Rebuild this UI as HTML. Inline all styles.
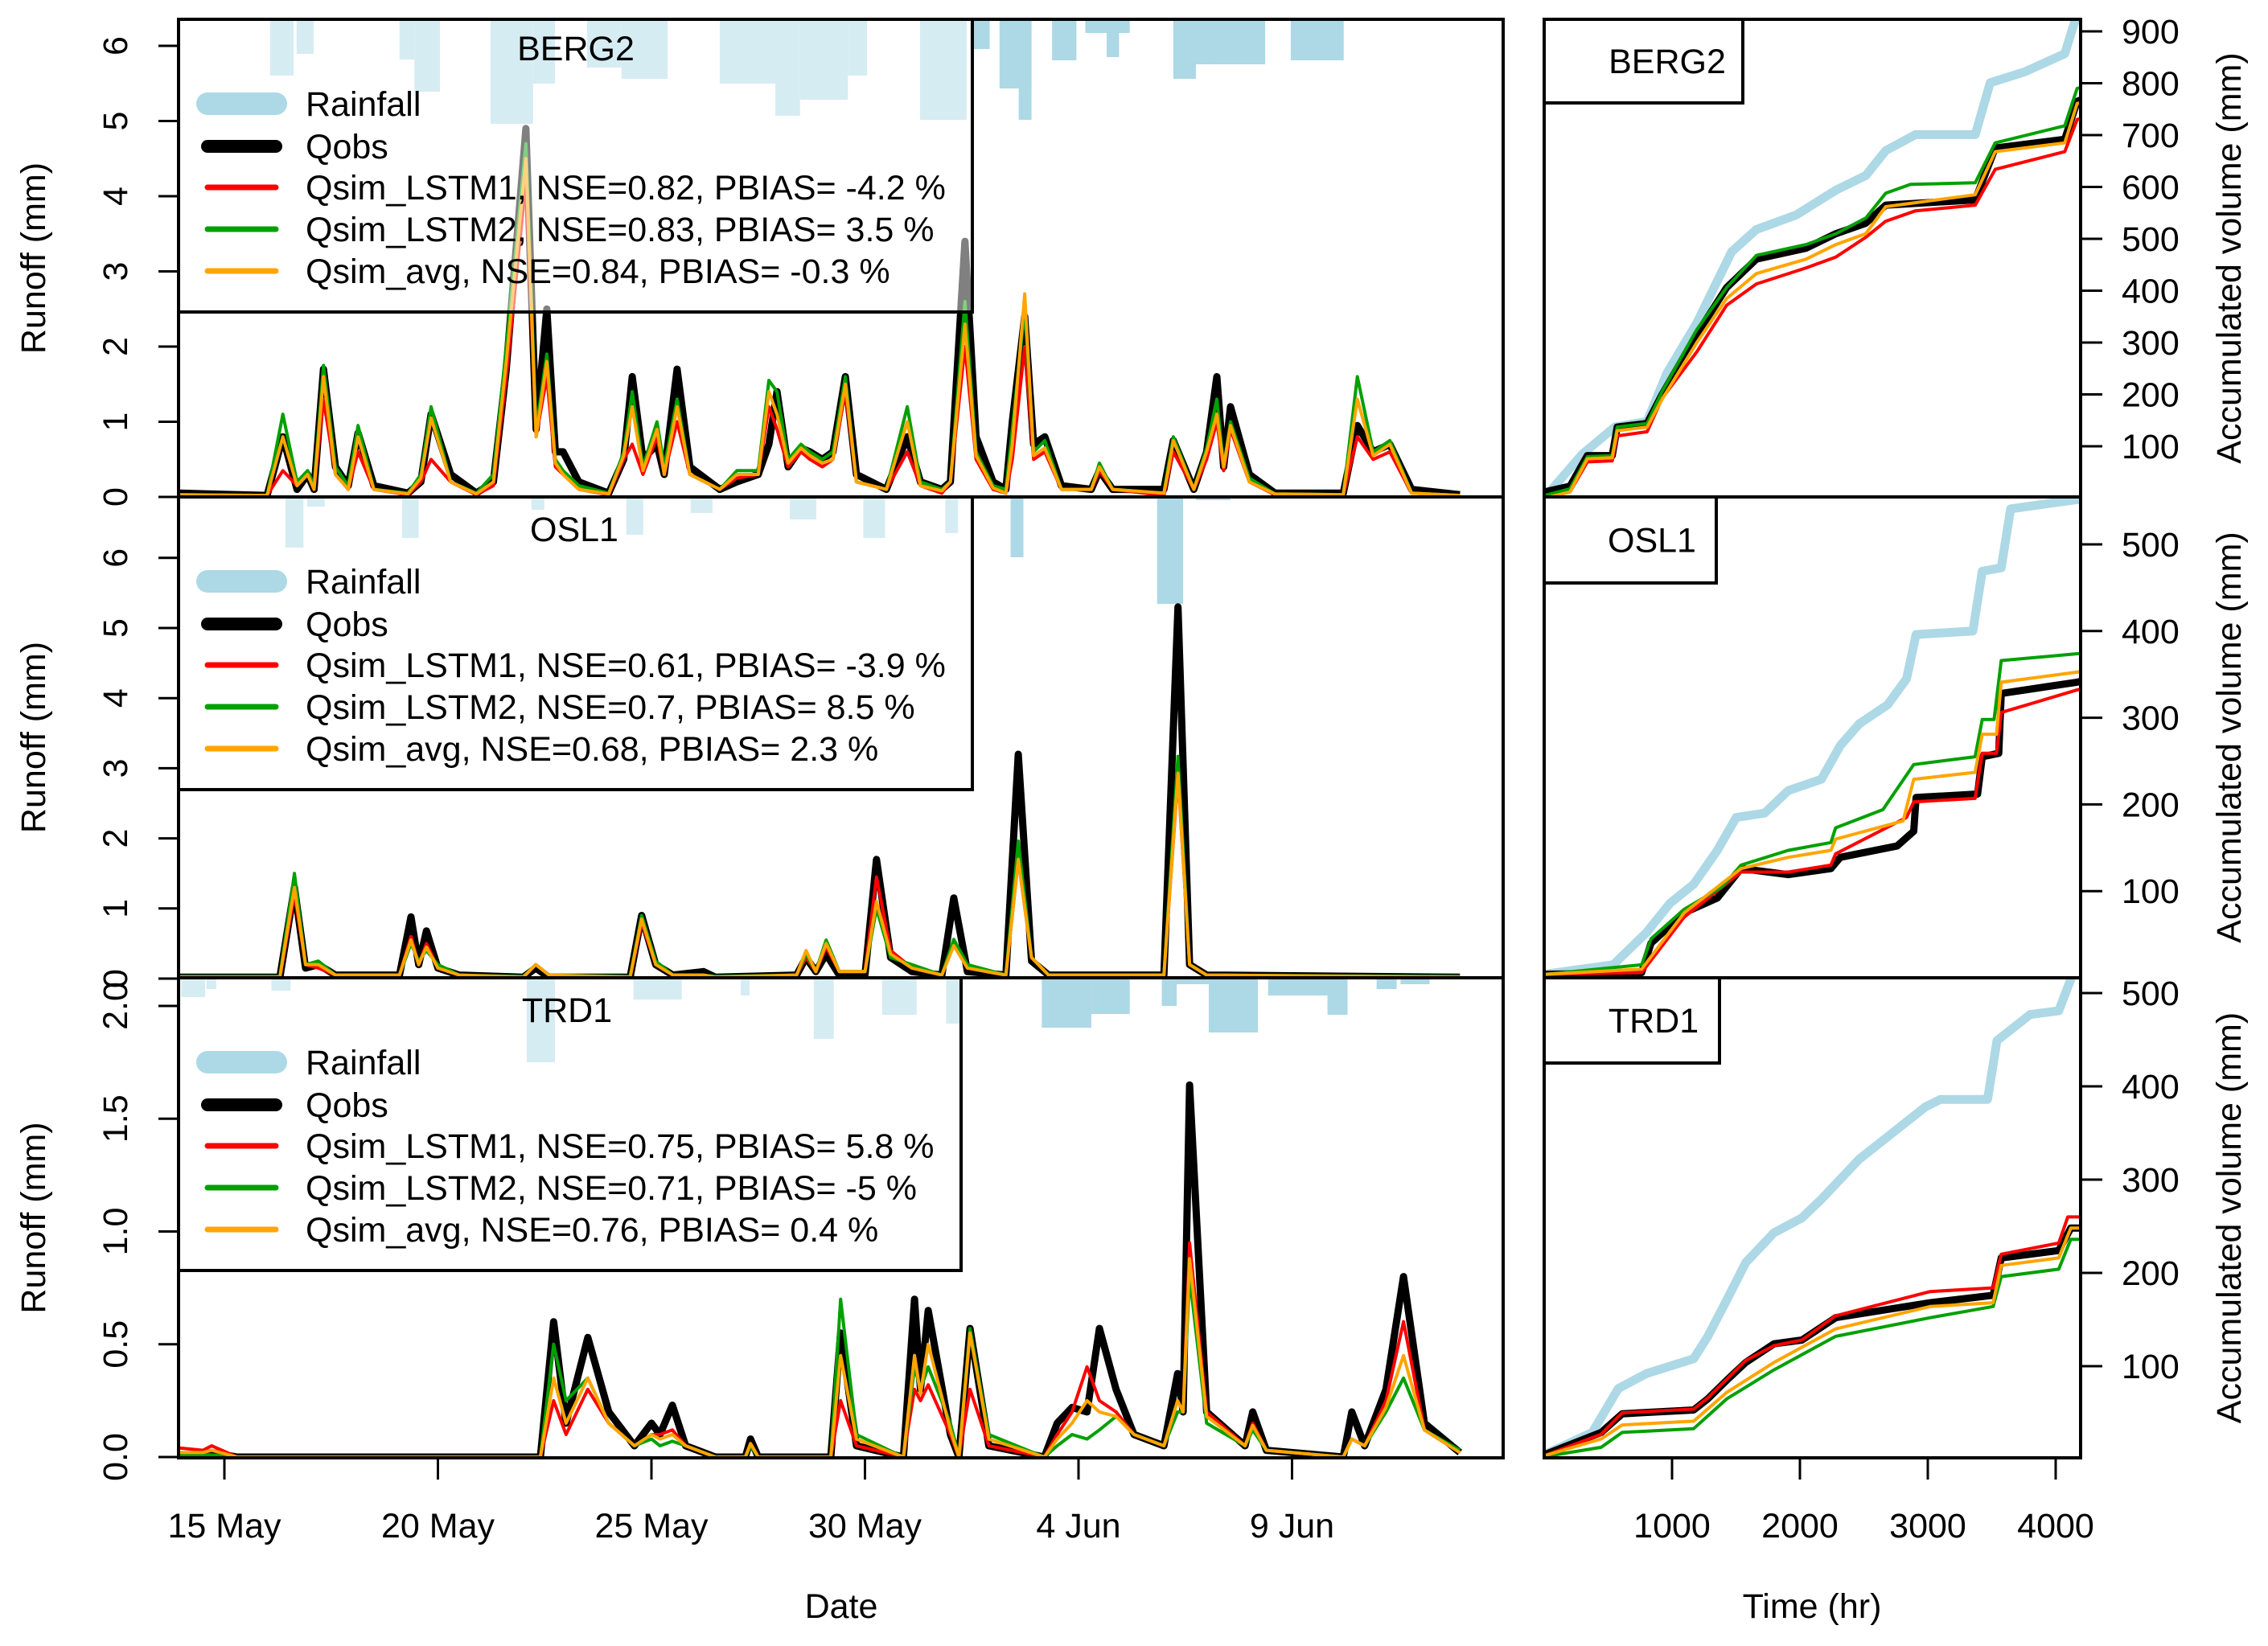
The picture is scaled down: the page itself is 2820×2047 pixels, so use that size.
<!DOCTYPE html>
<html><head><meta charset="utf-8"><style>
html,body{margin:0;padding:0;background:#fff;}
svg{display:block;font-family:"Liberation Sans",Arial,sans-serif;}
</style></head><body>
<svg id="chart" width="2820" height="2047" viewBox="0 0 2820 2047" xmlns="http://www.w3.org/2000/svg">
<defs>
<clipPath id="clipL1"><rect x="222" y="24" width="1647" height="594"/></clipPath>
<clipPath id="clipL2"><rect x="222" y="618" width="1647" height="598"/></clipPath>
<clipPath id="clipL3"><rect x="222" y="1216" width="1647" height="597"/></clipPath>
<clipPath id="clipR1"><rect x="1920" y="24" width="667" height="594"/></clipPath>
<clipPath id="clipR2"><rect x="1920" y="618" width="667" height="598"/></clipPath>
<clipPath id="clipR3"><rect x="1920" y="1216" width="667" height="598"/></clipPath>
</defs>
<g id="root"></g>
</svg>
<script>
// ---------------- DATA ----------------
// time in day-of-May (fractional); June dates continue as 32,33,...
const stations = ["BERG2","OSL1","TRD1"];
const legendLabels1 = ["Qsim_LSTM1, NSE=0.82, PBIAS= -4.2 %","Qsim_LSTM2, NSE=0.83, PBIAS= 3.5 %","Qsim_avg, NSE=0.84, PBIAS= -0.3 %"];
const legendLabels2 = ["Qsim_LSTM1, NSE=0.61, PBIAS= -3.9 %","Qsim_LSTM2, NSE=0.7, PBIAS= 8.5 %","Qsim_avg, NSE=0.68, PBIAS= 2.3 %"];
const legendLabels3 = ["Qsim_LSTM1, NSE=0.75, PBIAS= 5.8 %","Qsim_LSTM2, NSE=0.71, PBIAS= -5 %","Qsim_avg, NSE=0.76, PBIAS= 0.4 %"];
const dateTickDays = [15,20,25,30,35,40];
const dateTickLabels = ["15 May","20 May","25 May","30 May","4 Jun","9 Jun"];
const hrTicks = [1000,2000,3000,4000];

// BERG2 runoff
const t1 = [13.95,16.0,16.37,16.7,16.95,17.1,17.32,17.6,17.9,18.13,18.5,19.3,19.6,19.84,20.3,20.9,21.3,21.6,22.06,22.3,22.55,22.75,22.93,23.3,24.0,24.35,24.55,24.8,25.13,25.3,25.6,25.9,26.6,27.0,27.5,27.75,27.94,28.2,28.5,28.71,29.0,29.25,29.54,29.8,30.5,30.99,31.3,31.8,32.0,32.34,32.6,33.0,33.3,33.45,33.74,33.95,34.21,34.6,35.3,35.49,35.8,37.0,37.1,37.22,37.7,38.0,38.24,38.4,38.56,39.0,39.6,41.2,41.53,41.9,42.29,42.8,43.93];
const obs1 = [.05,.02,.8,.1,.3,.1,1.7,.4,.15,.85,.15,.05,.2,1.1,.3,.05,.2,1.7,4.9,.9,2.5,.6,.6,.2,.05,.5,1.6,.5,.7,.3,1.7,.4,.1,.2,.3,.7,1.4,.4,.65,.6,.5,.6,1.6,.3,.1,.8,.2,.1,.2,3.4,.8,.2,.1,1.0,2.4,.7,.8,.15,.1,.35,.1,.1,.4,.75,.1,.6,1.6,.4,1.2,.3,.05,.05,.95,.6,.7,.1,.03];
const lstm1_1 = [.02,.02,.35,.15,.3,.1,1.3,.3,.1,.6,.1,.03,.2,.5,.2,.03,.15,1.6,4.2,.8,1.6,.4,.3,.1,.03,.5,.7,.3,.8,.3,1.0,.3,.1,.25,.3,1.2,.9,.4,.6,.5,.4,.5,1.4,.2,.1,.6,.15,.05,.2,2.0,.5,.1,.05,.5,2.0,.5,.6,.1,.1,.35,.1,.02,.3,.6,.1,.5,1.0,.35,.9,.2,.03,.02,.8,.5,.6,.05,.02];
const lstm2_1 = [.03,.02,1.1,.2,.35,.15,1.75,.4,.15,.95,.1,.05,.3,1.2,.2,.05,.3,2.0,4.7,.9,1.9,.5,.35,.15,.05,.6,1.4,.4,1.0,.4,1.3,.3,.1,.35,.35,1.55,1.4,.5,.7,.6,.5,.6,1.6,.2,.1,1.2,.2,.1,.2,2.6,.6,.15,.1,.9,2.5,.6,.75,.1,.1,.45,.1,.05,.4,.8,.1,.65,1.3,.4,1.0,.25,.04,.03,1.6,.6,.75,.05,.02];
const avg_1 = [.03,.02,.8,.15,.3,.1,1.6,.3,.1,.8,.1,.04,.25,1.05,.2,.04,.2,1.8,4.5,.8,1.8,.45,.3,.1,.04,.55,1.2,.35,.9,.3,1.2,.3,.1,.3,.3,1.4,1.1,.45,.65,.55,.45,.5,1.5,.2,.1,1.0,.15,.08,.2,2.3,.55,.12,.05,.7,2.7,.55,.65,.1,.1,.4,.1,.05,.35,.75,.1,.6,1.1,.4,.95,.2,.04,.03,1.3,.55,.7,.05,.02];

// OSL1 runoff
const t2 = [13.95,16.3,16.64,16.9,17.2,17.6,19.1,19.37,19.55,19.73,20.0,20.5,22.0,22.29,22.6,24.5,24.77,25.1,25.5,26.22,26.5,28.4,28.62,28.85,29.09,29.4,30.0,30.27,30.6,31.1,31.8,32.08,32.4,33.3,33.59,33.9,34.3,37.0,37.33,37.6,38.0,43.93];
const obs2 = [.02,.02,1.3,.15,.2,.05,.05,.88,.2,.68,.15,.05,.02,.15,.02,.02,.9,.2,.05,.1,.02,.05,.3,.1,.35,.05,.05,1.7,.3,.1,.05,1.15,.1,.05,3.2,.25,.05,.05,5.3,.2,.05,.02];
const lstm1_2 = [.02,.02,1.2,.2,.15,.05,.05,.6,.2,.5,.15,.05,.02,.2,.05,.02,.8,.2,.05,.05,.02,.05,.3,.1,.45,.1,.1,1.45,.4,.15,.05,.5,.15,.05,1.7,.3,.05,.05,2.9,.2,.05,.02];
const lstm2_2 = [.03,.03,1.5,.2,.25,.05,.05,.5,.25,.4,.2,.05,.03,.2,.05,.03,.9,.25,.05,.05,.03,.05,.35,.1,.55,.1,.1,1.0,.3,.2,.05,.56,.2,.05,1.96,.3,.05,.05,3.17,.2,.05,.03];
const avg_2 = [.02,.02,1.3,.2,.2,.05,.05,.55,.2,.45,.15,.05,.02,.2,.05,.02,.85,.2,.05,.05,.02,.05,.4,.1,.5,.1,.1,1.1,.35,.15,.05,.47,.15,.05,1.7,.3,.05,.05,2.93,.2,.05,.02];

// TRD1 runoff
const t3 = [13.95,14.5,14.7,15.3,22.4,22.71,23.0,23.51,24.0,24.6,25.0,25.2,25.49,25.8,26.5,27.2,27.32,27.5,29.2,29.43,29.8,30.9,31.16,31.3,31.48,32.0,32.2,32.46,32.9,34.2,34.5,34.85,35.2,35.49,35.88,36.3,37.0,37.32,37.45,37.6,38.0,38.9,39.08,39.4,41.2,41.4,41.7,42.2,42.61,43.1,43.93];
const obs3 = [.01,.01,.02,0,0,.6,.15,.53,.2,.05,.15,.1,.23,.05,0,0,.08,0,0,.55,.05,0,.7,.3,.65,.1,0,.57,.05,0,.15,.22,.2,.57,.3,.1,.05,.37,.2,1.65,.2,.05,.2,.03,0,.2,.05,.3,.8,.15,.02];
const lstm1_3 = [.04,.03,.05,0,0,.25,.1,.3,.15,.05,.1,.1,.12,.05,0,0,.06,0,0,.25,.05,0,.3,.25,.32,.1,0,.3,.05,0,.1,.2,.4,.25,.2,.1,.05,.2,.2,.95,.2,.05,.15,.03,0,.08,.05,.25,.6,.12,.02];
const lstm2_3 = [.01,.01,.01,0,0,.5,.25,.35,.15,.05,.08,.05,.07,.05,0,0,.05,0,0,.7,.1,0,.4,.3,.4,.15,0,.57,.1,0,.05,.1,.08,.12,.18,.1,.05,.2,.2,.8,.15,.05,.12,.03,0,.08,.05,.2,.35,.12,.03];
const avg_3 = [.02,.02,.03,0,0,.35,.15,.35,.15,.05,.1,.08,.1,.05,0,0,.06,0,0,.45,.08,0,.45,.28,.5,.12,0,.55,.08,0,.08,.15,.25,.2,.18,.1,.05,.25,.2,.88,.18,.05,.14,.03,0,.08,.05,.22,.45,.12,.02];

// Rainfall blocks (start day, end day, mm)
const rain1Start = [16.07,16.69,19.1,19.45,21.23,22.23,23.49,24.3,26.6,27.9,28.48,29.6,31.29,32.47,33.15,33.6,34.38,35.16,35.66,37.22,37.63,38.1,39.97];
const rain1End   = [16.62,17.09,19.45,20.05,22.23,22.74,24.3,25.38,27.9,28.48,29.6,30.05,32.38,32.92,33.9,33.9,34.95,36.2,35.95,37.75,38.45,39.37,41.21];
const rain1Mm    = [7,4.3,5,9,13,8,6,7.4,8,12,10,7,12.5,3.7,8.6,12.5,5.1,1.7,4.7,7.4,5.6,5.6,5.1];
const rain2Start = [16.43,16.94,19.16,22.19,24.41,25.92,28.24,29.96,31.88,33.41,36.84,37.75];
const rain2End   = [16.85,17.35,19.55,22.49,24.81,26.43,28.86,30.47,32.18,33.71,37.45,38.56];
const rain2Mm    = [6.3,1.2,5.1,1.6,4.7,2.0,2.8,5.1,4.5,7.5,13.3,0.4];
const rain3Start = [13.99,14.58,16.1,22.08,24.58,27.09,28.8,30.4,31.9,34.14,35.3,36.95,37.05,38.05,39.44,40.83,41.98,42.54];
const rain3End   = [14.55,14.81,16.55,22.74,25.71,27.3,29.27,31.21,32.24,35.3,36.2,37.3,38.43,39.2,41.27,41.3,42.45,43.22];
const rain3Mm    = [2.4,1.4,1.6,10.5,2.7,2.2,7.6,4.6,5.7,6.2,4.5,3.5,0.8,6.8,2.2,4.6,1.4,0.8];

// Accumulated volume (hr, mm)
const cumRainHr1 = [0,299,552,805,960,1194,1466,1660,1971,2282,2515,2671,2904,3371,3488,3760,4071,4148,4200];
const cumRainMm1 = [0,85,137,148,241,338,475,518,546,594,622,670,701,701,801,822,857,918,930];
const cumObsHr1 = [0,202,338,532,571,805,921,1194,1427,1660,2049,2282,2515,2671,3371,3527,4071,4168,4200];
const cumObsMm1 = [12,23,82,82,137,144,199,316,406,461,482,510,530,565,575,675,692,765,768];
const cumL1Hr1 = [0,202,338,532,571,805,921,1194,1427,1660,2049,2282,2515,2671,2904,3371,3527,4071,4168,4200];
const cumL1Mm1 = [0,12,70,72,120,128,192,282,372,413,444,465,503,534,554,565,634,668,730,732];
const cumL2Hr1 = [0,202,338,532,571,805,921,1194,1427,1660,2049,2282,2515,2671,2865,3371,3527,4071,4168,4200];
const cumL2Mm1 = [5,18,80,82,137,144,205,325,406,468,489,510,540,588,605,608,685,718,790,792];
const cumAvgHr1 = [0,202,338,532,571,805,921,1194,1427,1660,2049,2282,2515,2671,3371,3527,4071,4168,4200];
const cumAvgMm1 = [0,12,76,78,130,137,190,300,385,433,461,489,510,562,585,668,685,761,763];

const cumRainHr2 = [0,540,799,984,1169,1354,1502,1724,1909,2168,2316,2464,2686,2834,2908,3352,3426,3574,3648,4184];
const cumRainMm2 = [4,15,52,86,108,147,185,190,216,229,268,293,315,345,396,400,469,473,541,552];
const cumObsHr2 = [0,762,836,1095,1354,1539,1909,2242,2316,2760,2890,2908,3389,3426,3555,3574,4166,4200];
const cumObsMm2 = [4,6,40,75,92,126,119,126,139,152,169,208,212,255,259,328,341,342];
const cumL1Hr2 = [0,762,1095,1539,1909,2242,2279,2834,2890,3370,3426,3537,3574,4166,4200];
const cumL1Mm2 = [4,6,70,122,122,130,143,185,203,207,259,259,306,332,333];
const cumL2Hr2 = [0,762,836,1095,1392,1539,1909,2242,2279,2649,2890,3370,3426,3518,3574,4185,4200];
const cumL2Mm2 = [4,15,45,79,105,130,147,156,173,194,246,255,298,298,366,374,375];
const cumAvgHr2 = [0,762,1095,1539,1909,2242,2279,2807,2890,3370,3426,3537,3574,4185,4200];
const cumAvgMm2 = [4,10,75,126,139,147,160,181,229,237,281,281,341,353,354];

const cumRainHr3 = [0,376,580,799,1169,1280,1428,1576,1797,2016,2168,2464,2760,2982,3100,3467,3541,3800,4024,4136,4200];
const cumRainMm3 = [5,29,76,92,108,132,171,211,243,259,279,322,354,378,386,386,449,477,481,521,530];
const cumObsHr3 = [0,446,610,1169,1280,1428,1576,1797,2016,2279,3019,3511,3574,4024,4118,4200];
const cumObsMm3 = [5,29,49,53,65,85,104,124,128,152,168,176,216,224,248,248];
const cumL1Hr3 = [0,446,610,1169,1280,1428,1576,1797,2016,2279,3019,3511,3574,4024,4095,4200];
const cumL1Mm3 = [4,27,50,54,66,86,106,122,128,154,180,184,220,232,260,260];
const cumL2Hr3 = [0,446,610,1169,1428,1797,2279,3019,3511,3574,4024,4118,4200];
const cumL2Mm3 = [3,13,29,33,65,96,132,152,164,196,204,236,236];
const cumAvgHr3 = [0,446,610,1169,1428,1797,2279,3019,3511,3574,4024,4118,4200];
const cumAvgMm3 = [4,22,37,41,72,104,140,164,168,208,216,248,248];

// ---------------- DRAW ----------------
const NS="http://www.w3.org/2000/svg";
const root=document.getElementById('root');
function mk(tag, attrs, parent){const e=document.createElementNS(NS,tag);for(const k in attrs)e.setAttribute(k,attrs[k]);(parent||root).appendChild(e);return e;}
const LX0=222, LX1=1869, RX0=1920, RX1=2587;
function xDay(t){return 279+(t-15)*53.1;}
function xHr(h){return RX0+h*0.159;}
const panels=[
 {top:24,bot:618,y0:618,ppu:93.5,ticks:[0,1,2,3,4,5,6],tl:["0","1","2","3","4","5","6"],t:t1,obs:obs1,l1:lstm1_1,l2:lstm2_1,av:avg_1,rs:rain1Start,re:rain1End,rm:rain1Mm,leg:legendLabels1,legR:1209,stX:716,stY:60,
  ry0:619.5,rppu:0.645,rticks:[100,200,300,400,500,600,700,800,900],boxR:2167,boxB:128,bx:2073,
  cr:[cumRainHr1,cumRainMm1],co:[cumObsHr1,cumObsMm1],c1:[cumL1Hr1,cumL1Mm1],c2:[cumL2Hr1,cumL2Mm1],ca:[cumAvgHr1,cumAvgMm1]},
 {top:618,bot:1216,y0:1217,ppu:87.2,ticks:[0,1,2,3,4,5,6],tl:["0","1","2","3","4","5","6"],t:t2,obs:obs2,l1:lstm1_2,l2:lstm2_2,av:avg_2,rs:rain2Start,re:rain2End,rm:rain2Mm,leg:legendLabels2,legR:1209,stX:714,stY:658,
  ry0:1216,rppu:1.078,rticks:[100,200,300,400,500],boxR:2134,boxB:725,bx:2054,
  cr:[cumRainHr2,cumRainMm2],co:[cumObsHr2,cumObsMm2],c1:[cumL1Hr2,cumL1Mm2],c2:[cumL2Hr2,cumL2Mm2],ca:[cumAvgHr2,cumAvgMm2]},
 {top:1216,bot:1813,y0:1812,ppu:280.5,ticks:[0,0.5,1,1.5,2],tl:["0.0","0.5","1.0","1.5","2.0"],t:t3,obs:obs3,l1:lstm1_3,l2:lstm2_3,av:avg_3,rs:rain3Start,re:rain3End,rm:rain3Mm,leg:legendLabels3,legR:1195,stX:705,stY:1256,
  ry0:1815,rppu:1.16,rticks:[100,200,300,400,500],boxR:2138,boxB:1322,bx:2056,
  cr:[cumRainHr3,cumRainMm3],co:[cumObsHr3,cumObsMm3],c1:[cumL1Hr3,cumL1Mm3],c2:[cumL2Hr3,cumL2Mm3],ca:[cumAvgHr3,cumAvgMm3]}
];
const RAINPX=10;
panels.forEach((p,i)=>{
  const n=i+1, st=stations[i].toLowerCase();
  const y=v=>p.y0-v*p.ppu;
  const g=mk('g',{'clip-path':'url(#clipL'+n+')'});
  
  
  // rain bars
  p.rs.forEach((s,k)=>{
    const r=mk('rect',{x:xDay(s),y:p.top,width:Math.max(2,xDay(p.re[k])-xDay(s)),height:p.rm[k]*RAINPX,fill:'#ADD8E6'},g);
    
    
  });
  const series=[[p.obs,'#000',9,'qobs-line'],[p.l1,'#ff0000',4,'qsim-lstm1-line'],[p.l2,'#00a000',4,'qsim-lstm2-line'],[p.av,'#ffa500',4,'qsim-avg-line']];
  series.forEach(s=>{
    const pts=p.t.map((t,k)=>xDay(t).toFixed(1)+','+y(s[0][k]).toFixed(1)).join(' ');
    const pl=mk('polyline',{points:pts,fill:'none',stroke:s[1],'stroke-width':s[2],'stroke-linejoin':'round'},g);
    
    
  });
  // legend
  const lg=mk('g',{});
  
  
  mk('rect',{x:LX0,y:p.top,width:p.legR-LX0,height:364,fill:'rgba(255,255,255,0.5)',stroke:'#000','stroke-width':4},lg);
  const tt=mk('text',{x:p.stX,y:p.stY+15,'font-size':43,'text-anchor':'middle'},lg);tt.textContent=stations[i];
  
  
  const items=[['Rainfall','#ADD8E6',28],['Qobs','#000',16],[p.leg[0],'#ff0000',7],[p.leg[1],'#00a000',7],[p.leg[2],'#ffa500',7]];
  const off=[105,158,209,261,313];
  items.forEach((it,k)=>{
    const yy=p.top+off[k];
    const ln=mk('line',{x1:258,x2:343,y1:yy,y2:yy,stroke:it[1],'stroke-width':it[2],'stroke-linecap':'round'},lg);
    
    
    const tx=mk('text',{x:380,y:yy+15,'font-size':43},lg);tx.textContent=it[0];
    
    
  });
  // frame
  mk('rect',{x:LX0,y:p.top,width:LX1-LX0,height:p.bot-p.top,fill:'none',stroke:'#000','stroke-width':4});
  // y ticks
  p.ticks.forEach((v,k)=>{
    const yy=y(v);
    mk('line',{x1:LX0-25,x2:LX0,y1:yy,y2:yy,stroke:'#000','stroke-width':3});
    const tx=mk('text',{x:0,y:0,'font-size':43,'text-anchor':'middle',transform:'translate(158,'+yy+') rotate(-90)'});
    tx.textContent=p.tl[k];
    
    
  });
  const yt=mk('text',{x:0,y:0,'font-size':43,'text-anchor':'middle',transform:'translate(56,'+((p.top+p.bot)/2)+') rotate(-90)'});
  yt.textContent='Runoff (mm)';
  
  

  // right panel
  const ry=v=>p.ry0-v*p.rppu;
  const rg=mk('g',{'clip-path':'url(#clipR'+n+')'});
  
  
  const cs=[[p.cr,'#ADD8E6',11,'cum-rainfall-line'],[p.co,'#000',9,'cum-qobs-line'],[p.c1,'#ff0000',4,'cum-lstm1-line'],[p.c2,'#00a000',4,'cum-lstm2-line'],[p.ca,'#ffa500',4,'cum-avg-line']];
  cs.forEach(s=>{
    const pts=s[0][0].map((h,k)=>xHr(h).toFixed(1)+','+ry(s[0][1][k]).toFixed(1)).join(' ');
    const pl=mk('polyline',{points:pts,fill:'none',stroke:s[1],'stroke-width':s[2],'stroke-linejoin':'round'},rg);
    
    
  });
  mk('rect',{x:RX0,y:p.top,width:RX1-RX0,height:p.bot-p.top,fill:'none',stroke:'#000','stroke-width':4});
  const bx=mk('rect',{x:RX0,y:p.top,width:p.boxR-RX0,height:p.boxB-p.top,fill:'#fff',stroke:'#000','stroke-width':4});
  
  
  const bt=mk('text',{x:p.bx,y:(p.top+p.boxB)/2+15,'font-size':43,'text-anchor':'middle'});bt.textContent=stations[i];
  
  
  p.rticks.forEach(v=>{
    const yy=ry(v);
    mk('line',{x1:RX1,x2:RX1+27,y1:yy,y2:yy,stroke:'#000','stroke-width':3});
    const tx=mk('text',{x:2638,y:yy+15,'font-size':43});tx.textContent=v;
    
    
  });
  const rt=mk('text',{x:0,y:0,'font-size':43,'text-anchor':'middle',transform:'translate(2786,'+((p.top+p.bot)/2)+') rotate(-90)'});
  rt.textContent='Accumulated volume (mm)';
  
  
});
// x axes
dateTickDays.forEach((d,k)=>{
  const xx=xDay(d);
  mk('line',{x1:xx,x2:xx,y1:1813,y2:1840,stroke:'#000','stroke-width':3});
  const tx=mk('text',{x:xx,y:1912,'font-size':43,'text-anchor':'middle'});tx.textContent=dateTickLabels[k];
  
  
});
hrTicks.forEach(h=>{
  const xx=xHr(h);
  mk('line',{x1:xx,x2:xx,y1:1814,y2:1840,stroke:'#000','stroke-width':3});
  const tx=mk('text',{x:xx,y:1912,'font-size':43,'text-anchor':'middle'});tx.textContent=h;
  
  
});
const xt=mk('text',{x:1046,y:2012,'font-size':43,'text-anchor':'middle'});xt.textContent='Date';


const xt2=mk('text',{x:2253,y:2012,'font-size':43,'text-anchor':'middle'});xt2.textContent='Time (hr)';


</script>
</body></html>
